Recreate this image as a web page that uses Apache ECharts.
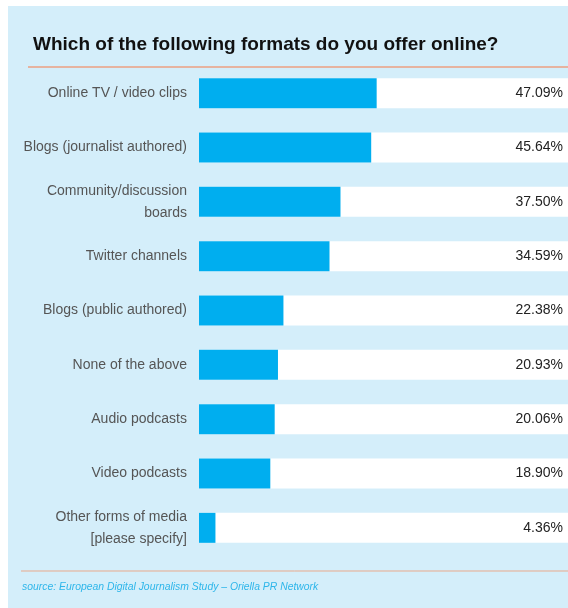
<!DOCTYPE html>
<html><head><meta charset="utf-8">
<script src="https://cdn.jsdelivr.net/npm/echarts@6/dist/echarts.min.js"></script>
<style>html,body{margin:0;padding:0;background:#fff}#c{width:568px;height:608px}</style>
</head><body><div id="c"></div>
<script>
var categories = ["Online TV / video clips","Blogs (journalist authored)","Community/discussion\nboards","Twitter channels","Blogs (public authored)","None of the above","Audio podcasts","Video podcasts","Other forms of media\n[please specify]"];
var values = [47.09,45.64,37.50,34.59,22.38,20.93,20.06,18.90,4.36];
var axisMax = 97.8;
var track = categories.map(function(){return axisMax;});
var chart = echarts.init(document.getElementById('c'));
chart.setOption({
  animation:false,
  backgroundColor:'#ffffff',
  graphic:[
    {type:'rect',z:-10,shape:{x:8,y:6,width:580,height:602,r:[0,22,0,0]},style:{fill:'#d4eefa'}},
    {type:'line',shape:{x1:28,y1:67,x2:568,y2:67},style:{stroke:'#e6b3a0',lineWidth:2}},
    {type:'line',shape:{x1:21,y1:571,x2:568,y2:571},style:{stroke:'#e9a98c',lineWidth:1}},
    {type:'text',x:33,y:45,style:{text:'Which of the following formats do you offer online?',font:'bold 19px "Liberation Sans",sans-serif',fill:'#111',textVerticalAlign:'middle'}},
    {type:'text',x:22,y:587,style:{text:'source: European Digital Journalism Study \u2013 Oriella PR Network',font:'italic 10.4px "Liberation Sans",sans-serif',fill:'#2eb6ea',textVerticalAlign:'middle'}}
  ],
  grid:{left:199,right:0,top:66,height:489},
  xAxis:{type:'value',min:0,max:axisMax,show:false},
  yAxis:{type:'category',data:categories,inverse:true,axisLine:{show:false},axisTick:{show:false},
    axisLabel:{margin:12,color:'#555',fontSize:14,lineHeight:22,fontFamily:'"Liberation Sans",sans-serif',align:'right'}},
  series:[
    {type:'bar',data:track,barWidth:30,itemStyle:{color:'#ffffff'},silent:true,z:1,
     label:{show:true,position:'insideRight',distance:5,color:'#222',fontSize:14,fontFamily:'"Liberation Sans",sans-serif',
       formatter:function(p){return values[p.dataIndex].toFixed(2)+'%';}}},
    {type:'bar',data:values,barWidth:30,barGap:'-100%',itemStyle:{color:'#00aeef'},z:2}
  ]
});
</script></body></html>
